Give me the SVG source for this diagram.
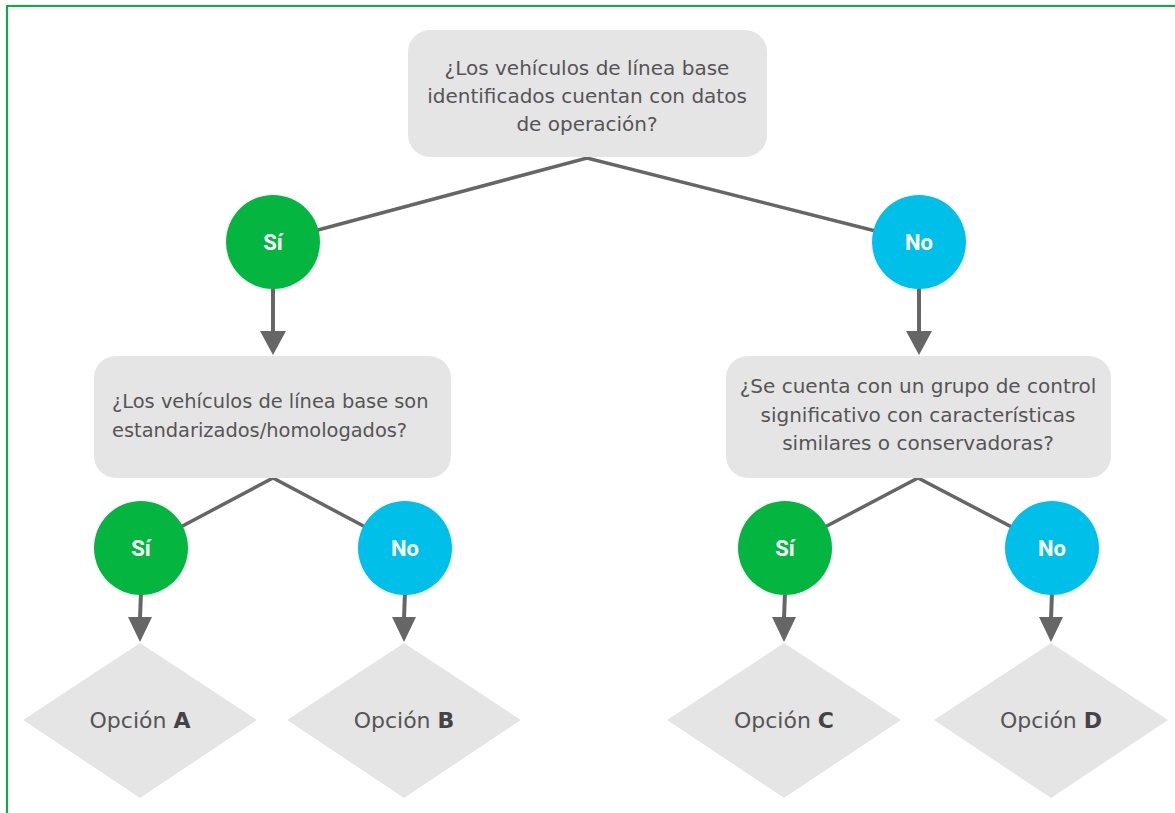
<svg xmlns="http://www.w3.org/2000/svg" width="1175" height="813" viewBox="0 0 1175 813">
<style>
.box{fill:#e5e5e5}
.q{font-family:"DejaVu Sans","Open Sans",sans-serif;font-size:20px;fill:#555}
.q2{font-size:19.4px}
.lbl{font-family:Roboto,"Liberation Sans",sans-serif;font-size:22px;font-weight:bold;fill:#fff;text-anchor:middle}
.yes{fill:#04b540}
.no{fill:#00bfe8}
.opt{font-family:"DejaVu Sans","Open Sans",sans-serif;font-size:22px;fill:#555;text-anchor:middle}
.opt tspan{font-weight:bold;fill:#444}
.conn{stroke:#666;stroke-width:3.5;fill:none}
.arr{stroke:#666;stroke-width:4;fill:none}
.head{fill:#666}
</style>
<rect x="0" y="0" width="1175" height="813" fill="#fff"/>
<polyline points="7,813 7,6 1175,6" fill="none" stroke="#00b53f" stroke-width="2"/>
<g id="connectors">
<polyline class="conn" points="273,242 587,158 919,242"/>
<polyline class="conn" points="141,548 273,478 405,548"/>
<polyline class="conn" points="785,548 918,478 1052,548"/>
<line class="arr" x1="273" y1="285" x2="273" y2="333"/>
<polygon class="head" points="260,331 286,331 273,355"/>
<line class="arr" x1="919" y1="285" x2="919" y2="333"/>
<polygon class="head" points="906,331 932,331 919,355"/>
<line class="arr" x1="141" y1="592" x2="140" y2="619"/>
<polygon class="head" points="128,617 152,617 140,642"/>
<line class="arr" x1="405" y1="592" x2="404" y2="619"/>
<polygon class="head" points="392,617 416,617 404,642"/>
<line class="arr" x1="785" y1="592" x2="784" y2="619"/>
<polygon class="head" points="772,617 796,617 784,642"/>
<line class="arr" x1="1052" y1="592" x2="1051" y2="619"/>
<polygon class="head" points="1039,617 1063,617 1051,642"/>
</g>
<g id="q1">
<rect class="box" x="408" y="30" width="359" height="127" rx="22"/>
<text class="q" text-anchor="middle"><tspan x="587" y="75">¿Los vehículos de línea base</tspan><tspan x="587" y="103">identificados cuentan con datos</tspan><tspan x="587" y="131">de operación?</tspan></text>
</g>
<g id="yes1"><circle class="yes" cx="273" cy="242" r="47"/><text class="lbl" x="273" y="250">Sí</text></g>
<g id="no1"><circle class="no" cx="919" cy="242" r="47"/><text class="lbl" x="919" y="250">No</text></g>
<g id="q2">
<rect class="box" x="94" y="356" width="357" height="122" rx="22"/>
<text class="q q2"><tspan x="112" y="408">¿Los vehículos de línea base son</tspan><tspan x="112" y="437">estandarizados/homologados?</tspan></text>
</g>
<g id="q3">
<rect class="box" x="726" y="356" width="385" height="122" rx="22"/>
<text class="q" text-anchor="middle"><tspan x="918" y="393">¿Se cuenta con un grupo de control</tspan><tspan x="918" y="422">significativo con características</tspan><tspan x="918" y="450">similares o conservadoras?</tspan></text>
</g>
<g id="yes2"><circle class="yes" cx="141" cy="548" r="47"/><text class="lbl" x="141" y="556">Sí</text></g>
<g id="no2"><circle class="no" cx="405" cy="548" r="47"/><text class="lbl" x="405" y="556">No</text></g>
<g id="yes3"><circle class="yes" cx="785" cy="548" r="47"/><text class="lbl" x="785" y="556">Sí</text></g>
<g id="no3"><circle class="no" cx="1052" cy="548" r="47"/><text class="lbl" x="1052" y="556">No</text></g>
<g id="optA"><polygon class="box" points="140,643 257,720 140,798 23,720"/><text class="opt" x="140" y="728">Opción <tspan>A</tspan></text></g>
<g id="optB"><polygon class="box" points="404,643 521,720 404,798 287,720"/><text class="opt" x="404" y="728">Opción <tspan>B</tspan></text></g>
<g id="optC"><polygon class="box" points="784,643 901,720 784,798 667,720"/><text class="opt" x="784" y="728">Opción <tspan>C</tspan></text></g>
<g id="optD"><polygon class="box" points="1051,643 1168,720 1051,798 934,720"/><text class="opt" x="1051" y="728">Opción <tspan>D</tspan></text></g>
</svg>
